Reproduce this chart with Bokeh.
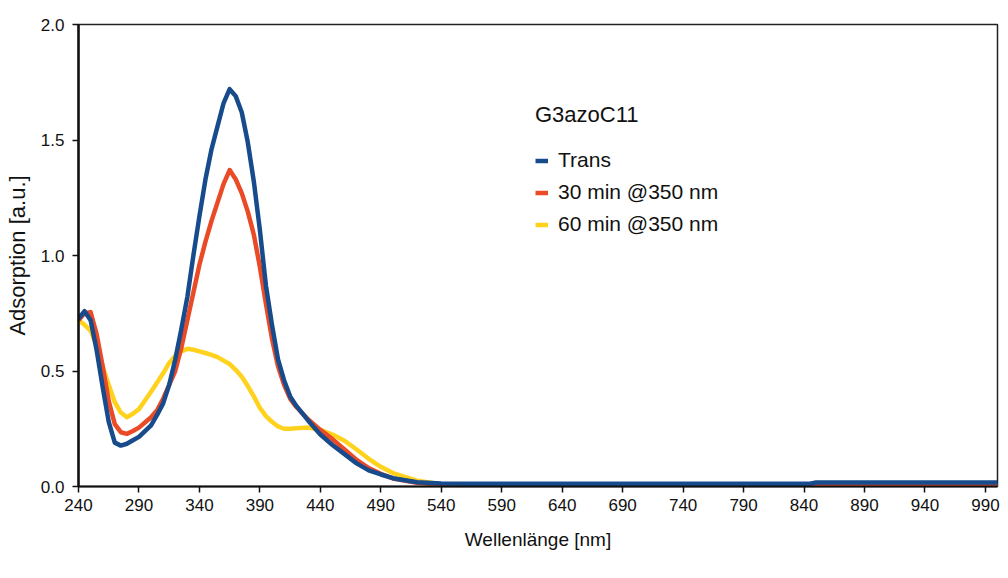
from bokeh.plotting import figure
from bokeh.models import Range1d, FixedTicker, NumeralTickFormatter, Legend, LegendItem
from bokeh.embed import file_html
from bokeh.resources import INLINE

wavelength = [240, 245, 250, 255, 260, 265, 270, 275, 280, 285, 290,
              300, 305, 310, 315, 320, 325, 330, 335, 340, 345,
              350, 355, 360, 365, 370, 375, 380, 385, 390, 395,
              400, 405, 410, 415, 420,
              430, 440, 450, 460, 470, 480, 490, 500,
              520, 540, 560, 600, 700, 800, 845, 850, 900, 1000]

trans = [0.726, 0.759, 0.72, 0.59, 0.43, 0.28, 0.19, 0.177, 0.185, 0.20, 0.215,
         0.265, 0.31, 0.36, 0.44, 0.55, 0.68, 0.82, 1.00, 1.17, 1.33,
         1.46, 1.56, 1.66, 1.72, 1.69, 1.62, 1.49, 1.32, 1.11, 0.87,
         0.70, 0.55, 0.46, 0.39, 0.35,
         0.285, 0.225, 0.18, 0.14, 0.10, 0.07, 0.052, 0.036,
         0.018, 0.013, 0.012, 0.012, 0.012, 0.012, 0.012, 0.017, 0.017, 0.017]

min30 = [0.72, 0.75, 0.755, 0.66, 0.52, 0.37, 0.27, 0.235, 0.228, 0.24, 0.255,
         0.30, 0.33, 0.38, 0.44, 0.50, 0.60, 0.72, 0.84, 0.96, 1.06,
         1.15, 1.23, 1.31, 1.37, 1.33, 1.27, 1.19, 1.09, 0.95, 0.79,
         0.64, 0.52, 0.44, 0.38, 0.345,
         0.29, 0.245, 0.205, 0.16, 0.115, 0.08, 0.055, 0.035,
         0.016, 0.008, 0.005, 0.004, 0.004, 0.004, 0.004, 0.004, 0.004, 0.004]

min60 = [0.72, 0.70, 0.675, 0.61, 0.52, 0.44, 0.365, 0.32, 0.30, 0.315, 0.335,
         0.41, 0.45, 0.49, 0.535, 0.565, 0.585, 0.596, 0.592, 0.585, 0.578,
         0.57, 0.56, 0.545, 0.53, 0.505, 0.475, 0.435, 0.39, 0.34, 0.305,
         0.28, 0.26, 0.25, 0.25, 0.252,
         0.255, 0.245, 0.225, 0.198, 0.16, 0.12, 0.085, 0.058,
         0.025, 0.01, 0.005, 0.003, 0.002, 0.002, 0.002, 0.002, 0.002, 0.002]

x_ticks = list(range(240, 1000, 50))
y_ticks = [0.0, 0.5, 1.0, 1.5, 2.0]

labels = ["Trans", "30 min @350 nm", "60 min @350 nm"]
colors = ["#174b8c", "#ea4a26", "#ffd21e"]

FONT = "Liberation Sans"

p = figure(frame_width=919, frame_height=462,
           x_range=Range1d(240, 1000), y_range=Range1d(0, 2.0),
           output_backend="svg", toolbar_location=None,
           min_border_left=78, min_border_top=24, min_border_right=3,
           min_border_bottom=70)

p.xgrid.visible = False
p.ygrid.visible = False
p.outline_line_color = "#222222"
p.outline_line_width = 1.5
p.background_fill_color = "white"
p.border_fill_color = "white"

r60 = p.line(wavelength, min60, line_color=colors[2], line_width=4.5, line_join="round")
r30 = p.line(wavelength, min30, line_color=colors[1], line_width=4.5, line_join="round")
rtr = p.line(wavelength, trans, line_color=colors[0], line_width=4.5, line_join="round")

for ax in (p.xaxis[0], p.yaxis[0]):
    ax.axis_line_color = "#111111"
    ax.major_tick_line_color = "#111111"
    ax.major_tick_in = 0
    ax.major_tick_out = 6
    ax.major_tick_line_width = 1.5
    ax.minor_tick_line_color = None
    ax.major_label_text_font = FONT
    ax.major_label_text_font_size = "17px"
    ax.major_label_text_color = "#111111"
    ax.axis_label_text_font = FONT
    ax.axis_label_text_font_style = "normal"
    ax.axis_label_text_color = "#111111"

p.xaxis[0].ticker = FixedTicker(ticks=x_ticks)
p.xaxis[0].axis_line_width = 2
p.xaxis[0].axis_label = "Wellenlänge [nm]"
p.xaxis[0].axis_label_text_font_size = "19px"
p.xaxis[0].major_label_standoff = 6
p.xaxis[0].axis_label_standoff = 15

p.yaxis[0].ticker = FixedTicker(ticks=y_ticks)
p.yaxis[0].formatter = NumeralTickFormatter(format="0.0")
p.yaxis[0].axis_line_width = 2.5
p.yaxis[0].axis_label = "Adsorption [a.u.]"
p.yaxis[0].axis_label_text_font_size = "22px"
p.yaxis[0].major_label_standoff = 8
p.yaxis[0].axis_label_standoff = 8

legend = Legend(items=[LegendItem(label=labels[0], renderers=[rtr]),
                       LegendItem(label=labels[1], renderers=[r30]),
                       LegendItem(label=labels[2], renderers=[r60])],
                location=(457, 250), title="G3azoC11")
legend.title_text_font = FONT
legend.title_text_font_size = "22px"
legend.title_text_font_style = "normal"
legend.title_text_color = "#111111"
legend.title_standoff = 20
legend.label_text_font = FONT
legend.label_text_font_size = "21px"
legend.label_text_color = "#111111"
legend.glyph_width = 13
legend.glyph_height = 21
legend.label_height = 21
legend.label_standoff = 10
legend.spacing = 8
legend.padding = 0
legend.margin = 0
legend.border_line_alpha = 0
legend.background_fill_alpha = 0
p.add_layout(legend, "center")

open("out.html", "w").write(file_html(p, INLINE))
